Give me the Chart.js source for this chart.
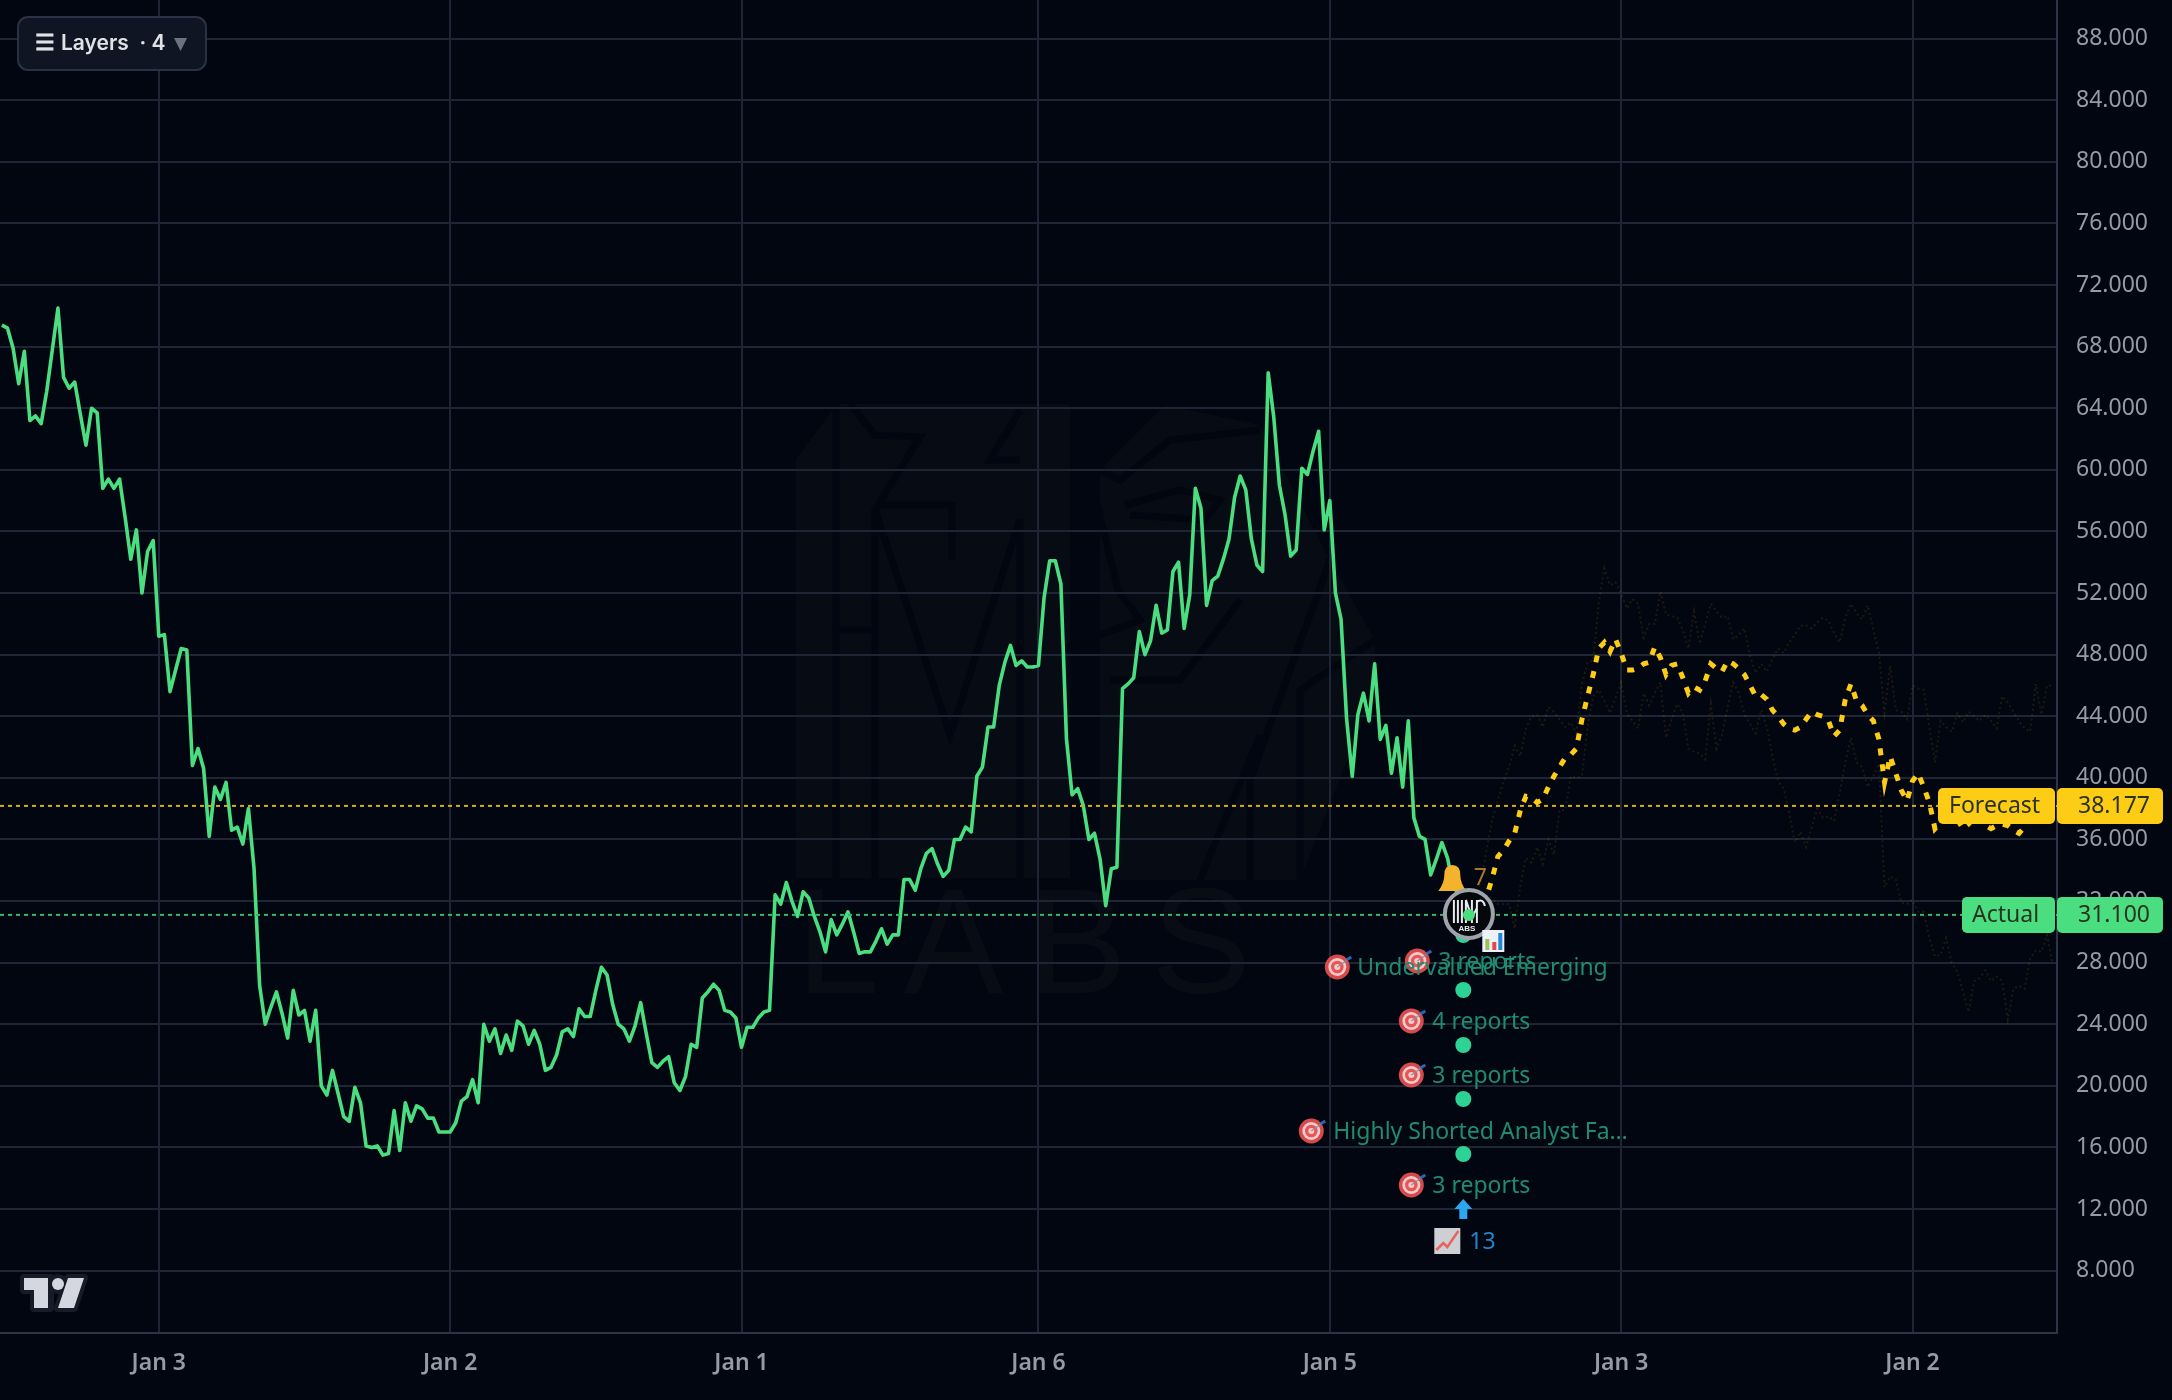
<!DOCTYPE html>
<html>
<head>
<meta charset="utf-8">
<title>Price and forecast</title>
<script src="https://cdn.jsdelivr.net/npm/chart.js@4"></script>
<style>
  html, body { margin: 0; background: #020611; width: 2172px; height: 1400px; overflow: hidden; }
  #mark, #logo { position: absolute; left: 0; top: 0; }
  #chart { position: absolute; left: 0; top: 0; }
  #layers {
    position: absolute; left: 17px; top: 16px; width: 186px; height: 51px;
    box-sizing: content-box; background: #0f1522; border: 2px solid #2a3345; border-radius: 11px;
    font: 600 21px Inter, sans-serif; color: #dfe2e7; line-height: 51px; white-space: pre;
  }
  #layers .burger { position: absolute; left: 16px; top: 0; font: 700 22px "DejaVu Sans", sans-serif; line-height: 49px; -webkit-text-stroke: 0.9px #dfe2e7; }
  #layers .name { position: absolute; left: 42px; top: -1px; }
  #layers .arrow { position: absolute; left: 155px; top: 0; color: #6b7280; font: 400 17px "DejaVu Sans", sans-serif; line-height: 51px; }
</style>
</head>
<body>
<!-- faint brand artwork behind the plot -->
<svg id="mark" width="2172" height="1400" viewBox="0 0 2172 1400">
  <g fill="#070b14">
    <polygon points="796,459 837,404 1070,404 1070,878 796,878"/>
    <polygon points="1100,470 1165,405 1260,425 1330,560 1375,640 1375,690 1300,880 1100,880"/>
  </g>
  <g fill="none" stroke="#020611" stroke-width="7">
    <polyline points="836,404 836,880"/>
    <polyline points="832,630 872,630"/>
    <polyline points="850,404 875,435 920,437 875,510 875,880"/>
    <polyline points="875,510 950,735 1020,520 1020,880"/>
    <polyline points="875,505 952,505 952,560"/>
    <polyline points="1020,460 990,460 1020,410"/>
    <polyline points="1100,470 1120,480 1170,440 1260,430"/>
    <polyline points="1125,505 1180,490 1220,500 1205,520 1130,515"/>
    <polyline points="1096,500 1118,590 1140,620 1060,650"/>
    <polyline points="1240,600 1180,680 1110,680"/>
    <polyline points="1260,735 1150,1000"/>
    <polyline points="1330,560 1250,780 1250,880"/>
    <polyline points="1375,640 1300,690 1300,880"/>
  </g>
  <text x="796" y="993" font-family="Liberation Sans" font-size="150" textLength="455" fill="#080c15">LABS</text>
</svg>

<canvas id="chart" width="2172" height="1400"></canvas>

<div id="layers"><span class="burger">☰</span><span class="name">Layers  · 4</span><span class="arrow">▼</span></div>

<svg id="logo" width="120" height="1400" viewBox="0 0 120 1400">
  <g stroke="#161b27" stroke-width="8" stroke-linejoin="round" fill="#161b27">
    <path d="M24 1278H50V1308H34V1290H24Z"/>
    <circle cx="58" cy="1284" r="6"/>
    <path d="M68 1278H84L74 1308H58Z"/>
  </g>
  <g fill="#d5d7e0">
    <path d="M24 1278H48V1308H34V1290H24Z"/>
    <circle cx="58" cy="1284" r="6"/>
    <path d="M68 1278H84L74 1308H58Z"/>
  </g>
</svg>

<script>
// weekly closes, index 0 is the leftmost bar
const actualValues = [
  69.4, 69.2, 67.9, 65.6, 67.7, 63.2, 63.5, 63.0, 65.1, 67.8,
  70.5, 66.0, 65.3, 65.7, 63.6, 61.6, 64.0, 63.7, 58.8, 59.4,
  58.8, 59.4, 56.9, 54.2, 56.1, 52.0, 54.7, 55.4, 49.2, 49.3,
  45.6, 47.0, 48.4, 48.3, 40.8, 41.9, 40.6, 36.2, 39.4, 38.6,
  39.7, 36.6, 36.8, 35.7, 38.0, 34.1, 26.5, 24.0, 25.1, 26.1,
  24.7, 23.1, 26.2, 24.6, 24.9, 22.9, 24.9, 20.0, 19.4, 21.0,
  19.5, 18.0, 17.7, 19.9, 18.9, 16.1, 16.0, 16.1, 15.5, 15.6,
  18.4, 15.8, 18.9, 17.7, 18.7, 18.5, 17.9, 17.9, 17.0, 17.0,
  17.0, 17.6, 19.0, 19.3, 20.4, 18.9, 24.0, 22.9, 23.7, 22.1,
  23.3, 22.3, 24.2, 23.9, 22.7, 23.6, 22.7, 21.0, 21.2, 22.0,
  23.5, 23.7, 23.2, 25.0, 24.5, 24.5, 26.2, 27.7, 27.2, 25.3,
  24.0, 23.7, 22.9, 23.9, 25.4, 23.4, 21.5, 21.2, 21.6, 21.9,
  20.2, 19.7, 20.6, 22.7, 22.5, 25.7, 26.1, 26.6, 26.2, 24.9,
  24.8, 24.4, 22.5, 23.8, 23.8, 24.4, 24.8, 24.9, 32.4, 31.8,
  33.2, 32.0, 31.0, 32.6, 32.2, 31.0, 30.0, 28.7, 30.8, 29.8,
  30.5, 31.3, 30.0, 28.6, 28.7, 28.7, 29.4, 30.2, 29.2, 29.8,
  29.8, 33.4, 33.4, 32.7, 34.1, 35.1, 35.4, 34.4, 33.6, 34.0,
  36.0, 36.0, 36.8, 36.5, 40.1, 40.7, 43.3, 43.3, 46.0, 47.5,
  48.6, 47.3, 47.6, 47.2, 47.2, 47.3, 51.7, 54.1, 54.1, 52.6,
  42.5, 38.9, 39.3, 38.2, 36.0, 36.4, 34.7, 31.7, 34.1, 34.2,
  45.8, 46.1, 46.5, 49.5, 48.0, 48.9, 51.2, 49.4, 49.6, 53.4,
  54.0, 49.7, 51.9, 58.8, 57.5, 51.2, 52.8, 53.1, 54.2, 55.5,
  58.2, 59.6, 58.7, 55.5, 53.8, 53.4, 66.3, 63.4, 59.0, 57.1,
  54.4, 54.8, 60.1, 59.7, 61.2, 62.5, 56.1, 58.0, 52.0, 50.3,
  43.8, 40.1, 44.1, 45.5, 43.7, 47.4, 42.5, 43.4, 40.3, 42.6,
  39.4, 43.7, 37.4, 36.2, 36.0, 33.7, 34.7, 35.8, 34.8, 33.0,
  32.4, 31.6, 31.1
];

// forecast paths start at the last actual bar
const forecastStartWeek = 262;
const forecastValues = [
  31.1, 31.5, 32.0, 32.3, 33.5, 34.9, 35.3, 35.9, 36.4, 37.9,
  38.8, 38.7, 38.4, 38.6, 39.4, 40.1, 40.7, 41.3, 41.5, 41.9,
  43.8, 45.3, 46.7, 48.4, 48.8, 48.2, 49.0, 48.1, 47.0, 47.0,
  47.1, 47.4, 47.5, 48.5, 47.8, 46.7, 47.3, 47.4, 46.5, 45.5,
  45.9, 45.7, 46.3, 47.4, 47.1, 46.9, 47.6, 47.4, 47.1, 46.7,
  46.0, 45.3, 45.4, 45.1, 44.4, 44.0, 43.5, 43.2, 43.1, 43.3,
  43.8, 44.3, 44.1, 44.0, 43.7, 42.7, 43.1, 45.1, 46.1, 45.0,
  44.7, 44.1, 43.7, 42.5, 39.7, 41.4, 40.3, 39.2, 38.5, 39.8,
  40.3, 39.4, 38.4, 36.7, 37.1, 37.3, 37.2, 37.3, 36.7, 37.0,
  37.4, 37.6, 36.9, 36.7, 36.9, 37.0, 36.9, 36.6, 36.4, 36.8,
  37.4
];
const upperBandValues = [
  31.1, null, 33.4, null, 37.3, null, 39.8, 40.7, 42.1, 41.4,
  43.2, 44.0, 44.1, 43.3, 44.6, 44.3, 43.8, 43.3, 43.6, 42.9,
  46.1, 47.5, 47.6, 51.4, 53.6, 52.5, 52.7, 52.0, 51.0, 51.6,
  51.3, 49.1, 50.0, 50.0, 52.1, 50.6, 50.5, 50.4, 49.6, 48.4,
  50.8, 48.7, 50.0, 51.3, 50.8, 50.4, 50.5, 49.0, 49.3, 49.7,
  47.9, 46.8, 47.4, 46.9, 47.7, 48.4, 48.1, 48.8, 49.3, 49.9,
  49.9, 49.7, 50.1, 50.4, 50.2, 49.4, 48.8, 50.4, 51.3, 50.7,
  50.3, 51.2, 49.6, 48.1, 44.2, 47.3, 44.4, 44.3, 43.8, 46.0,
  45.8, 45.7, 43.3, 41.0, 43.7, 43.3, 43.0, 44.2, 43.6, 44.3,
  44.0, 43.7, 44.1, 43.7, 43.2, 45.3, 44.9, 44.3, 43.7, 43.2,
  43.0, 46.1, 44.1, 46.0, 46.0
];
const lowerBandValues = [
  31.1, 32.5, 32.1, 32.3, 32.2, 31.8, 31.8, 31.8, 30.2, 33.0,
  34.8, 34.5, 35.5, 34.4, 36.0, 35.0, 37.9, 37.9, 40.1, 40.0,
  40.1, 43.3, 45.3, 45.7, 45.0, 44.2, 45.2, 46.2, 44.2, 43.7,
  43.2, 45.5, 44.7, 45.5, 46.2, 42.6, 43.8, 44.8, 44.2, 41.9,
  41.7, 41.6, 41.2, 44.8, 41.9, 42.8, 44.6, 46.2, 45.5, 44.1,
  43.5, 42.9, 44.4, 43.3, 41.4, 39.8, 39.3, 37.7, 35.8, 36.5,
  35.5, 36.8, 38.0, 37.4, 37.5, 37.2, 39.0, 41.0, 42.6, 41.0,
  40.7, 39.4, 40.1, 40.9, 32.9, 33.6, 33.4, 31.9, 31.8, 32.1,
  31.3, 31.3, 29.6, 28.4, 28.5, 29.6, 28.0, 27.4, 26.1, 24.8,
  26.8, 27.0, 27.5, 26.8, 27.1, 26.8, 24.3, 26.3, 26.5, 26.3,
  28.3, 28.8, 28.7, 29.8, 27.9
];

const forecastPrice = 38.177;
const actualPrice = 31.1;

// first bar of each calendar year
const tickWeeks = [28, 80, 132, 185, 237, 289, 341];
const tickLabels = ['Jan 3', 'Jan 2', 'Jan 1', 'Jan 6', 'Jan 5', 'Jan 3', 'Jan 2'];
const priceTicks = [8, 12, 16, 20, 24, 28, 32, 36, 40, 44, 48, 52, 56, 60, 64, 68, 72, 76, 80, 84, 88];

// event column stacked under the last bar
const eventWeek = 261;
const eventLabels = ['3 reports', 'Undervalued Emerging', '4 reports', '3 reports', 'Highly Shorted Analyst Fa…', '3 reports'];
const alertCount = '7';
const newsCount = '13';

const xMin = -0.34, xMax = 366.78;
const yMin = 3.95, yMax = 90.51;

const GREEN = '#4ade80', YELLOW = '#fdcc14', GRID = '#1e2635', AXIS = '#2b3546', TICK = '#969aa5';
const FONT = '"Noto Sans", sans-serif';

const series = (values, start) => values.map((y, i) => ({ x: start + i, y }));
const flat = y => [{ x: xMin, y }, { x: xMax, y }];

function drawTarget(ctx, x, y) {
  ctx.save();
  ctx.globalAlpha = 0.9;
  [[12.5, '#ee5253'], [9, '#f3d9d9'], [6.3, '#e8474a'], [3, '#f3d9d9']].forEach(([r, c]) => {
    ctx.beginPath(); ctx.arc(x, y, r, 0, Math.PI * 2); ctx.fillStyle = c; ctx.fill();
  });
  ctx.strokeStyle = '#8a8f99'; ctx.lineWidth = 1.5;
  ctx.beginPath(); ctx.moveTo(x, y); ctx.lineTo(x + 10, y - 7); ctx.stroke();
  ctx.strokeStyle = '#2f6fc4'; ctx.lineWidth = 3;
  ctx.beginPath(); ctx.moveTo(x + 9, y - 7); ctx.lineTo(x + 14, y - 10); ctx.stroke();
  ctx.restore();
}

function drawBell(ctx, x, y) {
  ctx.fillStyle = '#f3b32d';
  ctx.beginPath();
  ctx.moveTo(x - 14, y + 12);
  ctx.quadraticCurveTo(x - 8, y + 4, x - 8, y - 4);
  ctx.quadraticCurveTo(x - 8, y - 14, x, y - 14);
  ctx.quadraticCurveTo(x + 8, y - 14, x + 8, y - 4);
  ctx.quadraticCurveTo(x + 8, y + 4, x + 14, y + 12);
  ctx.closePath();
  ctx.fill();
}

function drawBarsIcon(ctx, x, y) {
  ctx.fillStyle = '#eef1f5';
  ctx.fillRect(x - 11, y - 11, 22, 22);
  ctx.fillStyle = '#9bc25b'; ctx.fillRect(x - 8, y - 2, 4, 11);
  ctx.fillStyle = '#e8474a'; ctx.fillRect(x - 1, y + 1, 4, 8);
  ctx.fillStyle = '#1f87e0'; ctx.fillRect(x + 5, y - 8, 4, 17);
}

function drawTrendIcon(ctx, x, y) {
  ctx.save();
  ctx.globalAlpha = 0.88;
  ctx.fillStyle = '#e9ecf0';
  ctx.fillRect(x - 13, y - 13, 26, 26);
  ctx.strokeStyle = '#e8554e'; ctx.lineWidth = 2.5;
  ctx.beginPath();
  ctx.moveTo(x - 11, y + 9); ctx.lineTo(x - 4, y + 2); ctx.lineTo(x, y + 6); ctx.lineTo(x + 11, y - 10);
  ctx.stroke();
  ctx.restore();
}

function drawUpArrow(ctx, x, y) {
  ctx.fillStyle = '#2aa7ef';
  ctx.beginPath();
  ctx.moveTo(x, y - 10); ctx.lineTo(x + 9, y); ctx.lineTo(x + 4, y);
  ctx.lineTo(x + 4, y + 10); ctx.lineTo(x - 4, y + 10); ctx.lineTo(x - 4, y);
  ctx.lineTo(x - 9, y);
  ctx.closePath();
  ctx.fill();
}

// round badge: striped monogram with a small caption
function drawBadge(ctx, x, y) {
  ctx.beginPath(); ctx.arc(x, y, 24, 0, Math.PI * 2);
  ctx.fillStyle = '#04070c'; ctx.fill();
  ctx.lineWidth = 4; ctx.strokeStyle = '#9fa3ab'; ctx.stroke();
  ctx.strokeStyle = '#e8eaee'; ctx.lineWidth = 2;
  ctx.beginPath();
  [-15, -11, -7, -3, 3, 8].forEach(dx => { ctx.moveTo(x + dx, y - 14); ctx.lineTo(x + dx, y + 9); });
  ctx.moveTo(x - 3, y - 14); ctx.lineTo(x + 3, y + 4); ctx.lineTo(x + 8, y - 6);
  ctx.moveTo(x + 8, y - 12); ctx.quadraticCurveTo(x + 14, y - 16, x + 16, y - 8);
  ctx.stroke();
  ctx.fillStyle = '#e8eaee';
  ctx.textAlign = 'center'; ctx.textBaseline = 'middle';
  ctx.font = '700 8px "Liberation Sans"';
  ctx.fillText('ABS', x - 2, y + 15);
}

function drawTag(ctx, left, right, midY, color, text, textX, align) {
  ctx.fillStyle = color;
  ctx.beginPath();
  ctx.roundRect(left, midY - 18, right - left, 36, 5);
  ctx.fill();
  ctx.fillStyle = '#2b3320';
  ctx.textAlign = align; ctx.textBaseline = 'middle';
  ctx.font = '23px ' + FONT;
  ctx.fillText(text, textX, midY + 1);
}

// price tags, event column and badges over the plot
const overlays = {
  id: 'overlays',
  afterDatasetsDraw(chart) {
    const { ctx, scales: { x, y } } = chart;
    ctx.save();

    const fy = y.getPixelForValue(forecastPrice), ay = y.getPixelForValue(actualPrice);
    drawTag(ctx, 1938, 2055, fy, YELLOW, 'Forecast', 1949, 'left');
    drawTag(ctx, 2057, 2163, fy, YELLOW, forecastPrice.toFixed(3), 2150, 'right');
    drawTag(ctx, 1962, 2055, ay, GREEN, 'Actual', 1972, 'left');
    drawTag(ctx, 2057, 2163, ay, GREEN, actualPrice.toFixed(3), 2150, 'right');

    const ex = x.getPixelForValue(eventWeek) - 1;
    const lastX = x.getPixelForValue(actualValues.length - 1);

    ctx.font = '23px ' + FONT;
    ctx.textBaseline = 'middle';
    ctx.textAlign = 'left';
    const rows = [
      { y: 962, dot: 935, ix: -46, tx: -25 },
      { y: 968, dot: null, ix: -126, tx: -106 },
      { y: 1022, dot: 990, ix: -52, tx: -31 },
      { y: 1076, dot: 1045, ix: -52, tx: -31 },
      { y: 1132, dot: 1099, ix: -152, tx: -130 },
      { y: 1186, dot: 1154, ix: -52, tx: -31 }
    ];
    rows.forEach(r => {
      if (r.dot) {
        ctx.beginPath(); ctx.arc(ex, r.dot, 8, 0, Math.PI * 2);
        ctx.fillStyle = '#2dd295'; ctx.fill();
      }
    });
    rows.forEach((r, i) => {
      drawTarget(ctx, ex + r.ix, r.y - 1);
      ctx.fillStyle = '#1f8b70';
      ctx.fillText(eventLabels[i], ex + r.tx, r.y);
    });

    drawUpArrow(ctx, ex, 1209);
    drawTrendIcon(ctx, ex - 16, 1241);
    ctx.fillStyle = '#2484c6';
    ctx.fillText(newsCount, ex + 6, 1242);

    drawBell(ctx, ex - 11, 879);
    ctx.fillStyle = '#a9782a';
    ctx.textAlign = 'center';
    ctx.fillText(alertCount, ex + 17, 878);

    drawBadge(ctx, lastX - 1, ay - 1);
    ctx.beginPath(); ctx.arc(lastX - 1, ay, 6, 0, Math.PI * 2);
    ctx.fillStyle = GREEN; ctx.fill();
    drawBarsIcon(ctx, ex + 30, 941);

    ctx.restore();
  }
};

new Chart(document.getElementById('chart'), {
  type: 'line',
  plugins: [overlays],
  data: {
    datasets: [
      { data: series(upperBandValues, forecastStartWeek), borderColor: 'rgba(250,204,21,0.11)', borderWidth: 2, borderDash: [2, 3], spanGaps: true, order: 5 },
      { data: series(lowerBandValues, forecastStartWeek), borderColor: 'rgba(250,204,21,0.11)', borderWidth: 2, borderDash: [2, 3], spanGaps: true, order: 5 },
      { data: series(actualValues, 0), borderColor: GREEN, borderWidth: 3.6, borderJoinStyle: 'round', order: 3 },
      { data: flat(forecastPrice), borderColor: '#d9ab12', borderWidth: 2, borderDash: [4, 4], order: 2 },
      { data: flat(actualPrice), borderColor: '#37b866', borderWidth: 2, borderDash: [4, 4], order: 2 },
      { data: series(forecastValues, forecastStartWeek), borderColor: YELLOW, borderWidth: 5, borderDash: [7, 9], order: 1 }
    ]
  },
  options: {
    responsive: false,
    animation: false,
    layout: { padding: 0 },
    elements: { point: { radius: 0 }, line: { tension: 0 } },
    plugins: { legend: { display: false }, tooltip: { enabled: false } },
    scales: {
      x: {
        type: 'linear', min: xMin, max: xMax,
        grid: { color: GRID, lineWidth: 2, drawTicks: false },
        border: { color: AXIS, width: 2 },
        afterBuildTicks: s => { s.ticks = tickWeeks.map(value => ({ value })); },
        afterFit: s => { s.height = 67; s.paddingLeft = 0; s.paddingRight = 0; },
        ticks: {
          autoSkip: false, maxRotation: 0, padding: 17, color: TICK,
          font: { family: FONT, size: 23, weight: '600' },
          callback: v => tickLabels[tickWeeks.indexOf(v)]
        }
      },
      y: {
        position: 'right', min: yMin, max: yMax,
        grid: { color: GRID, lineWidth: 2, drawTicks: false },
        border: { color: AXIS, width: 2 },
        afterBuildTicks: s => { s.ticks = priceTicks.map(value => ({ value })); },
        afterFit: s => { s.width = 115; s.paddingTop = 0; s.paddingBottom = 0; },
        ticks: {
          padding: 19, color: TICK,
          font: { family: FONT, size: 23 },
          callback: v => v.toFixed(3)
        }
      }
    }
  }
});
</script>
</body>
</html>
